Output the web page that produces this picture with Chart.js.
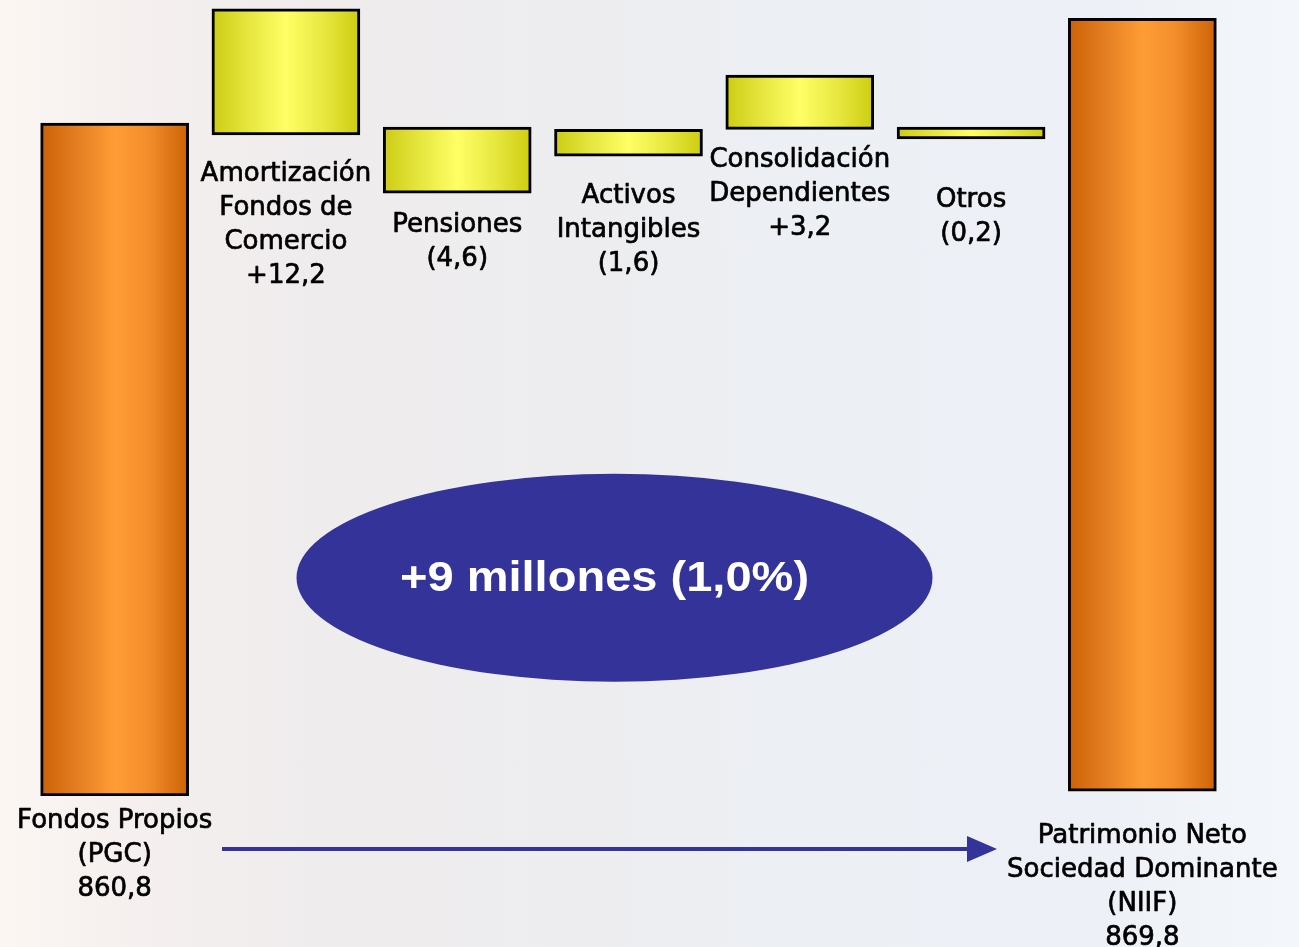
<!DOCTYPE html>
<html>
<head>
<meta charset="utf-8">
<script src="https://cdn.jsdelivr.net/npm/chart.js@4.4.1/dist/chart.umd.min.js"></script>
<style>
    html, body {
        margin: 0;
        padding: 0;
        width: 1299px;
        height: 947px;
        overflow: hidden;
        background: linear-gradient(90deg, #fcf6f3 0%, #f6f0ef 8%, #efeced 25%, #ededef 45%, #eceff4 60%, #edf0f6 85%, #f2f5f9 96%, #f3f6fa 100%);
    }
    #wrap {
        position: absolute;
        left: 0;
        top: 0;
        width: 1299px;
        height: 947px;
    }
</style>
</head>
<body>
<div id="wrap"><canvas id="chart"></canvas></div>
<script>
// Categorías (etiquetas bajo cada barra)
const categories = [
    ['Fondos Propios', '(PGC)', '860,8'],
    ['Amortización', 'Fondos de', 'Comercio', '+12,2'],
    ['Pensiones', '(4,6)'],
    ['Activos', 'Intangibles', '(1,6)'],
    ['Consolidación', 'Dependientes', '+3,2'],
    ['Otros', '(0,2)'],
    ['Patrimonio Neto', 'Sociedad Dominante', '(NIIF)', '869,8']
];

// Valores en millones (tal como figuran en el gráfico)
const amounts = [860.8, 12.2, -4.6, -1.6, 3.2, -0.2, 869.8];

// Niveles dibujados (escala visual del gráfico original, no proporcional)
const barBase = [0, 83.9, 84.9, 84.6, 84.6, 84.9, 0.6];
const barTop  = [85.4, 99.9, 76.5, 81.2, 91.5, 83.4, 98.7];

// Tipo de barra: total (naranja) o variación (amarillo)
const barKind = ['total', 'delta', 'delta', 'delta', 'delta', 'delta', 'total'];

const summaryText = '+9 millones (1,0%)';

const BAR_W = 148;

// Espacio entre la barra y su etiqueta
const labelGap = [25, 39, 32, 40, 31, 61, 45];

function barGradient(context) {
    const chart = context.chart;
    const xScale = chart.scales.x;
    const fallback = barKind[context.dataIndex] === 'total' ? '#f08a2a' : '#eeee50';
    if (!xScale || context.dataIndex === undefined) return fallback;
    const cx = xScale.getPixelForValue(context.dataIndex);
    if (!isFinite(cx)) return fallback;
    const g = chart.ctx.createLinearGradient(cx - BAR_W / 2, 0, cx + BAR_W / 2, 0);
    if (barKind[context.dataIndex] === 'total') {
        g.addColorStop(0, '#cc6205');
        g.addColorStop(0.25, '#e47e22');
        g.addColorStop(0.5, '#ff9d35');
        g.addColorStop(0.72, '#f48e2c');
        g.addColorStop(1, '#cc6205');
    } else {
        g.addColorStop(0, '#cccc14');
        g.addColorStop(0.25, '#e6e640');
        g.addColorStop(0.5, '#ffff66');
        g.addColorStop(0.75, '#e8e842');
        g.addColorStop(1, '#cccc10');
    }
    return g;
}

// Etiquetas, elipse y flecha
const decorPlugin = {
    id: 'decor',
    afterDatasetsDraw(chart) {
        const ctx = chart.ctx;
        const xScale = chart.scales.x;
        const yScale = chart.scales.y;

        ctx.save();
        ctx.fillStyle = '#000000';
        ctx.strokeStyle = '#000000';
        ctx.lineWidth = 0.7;
        ctx.lineJoin = 'round';
        ctx.font = '26px "DejaVu Sans"';
        ctx.textAlign = 'center';
        ctx.textBaseline = 'middle';
        categories.forEach((lines, i) => {
            const cx = xScale.getPixelForValue(i);
            const bottom = yScale.getPixelForValue(Math.min(barBase[i], barTop[i]));
            lines.forEach((line, j) => {
                const y = bottom + labelGap[i] + j * 34;
                ctx.fillText(line, cx, y);
                ctx.strokeText(line, cx, y);
            });
        });

        // Elipse con el resumen
        const ex = (xScale.getPixelForValue(2) + xScale.getPixelForValue(4)) / 2 - 14;
        const ey = yScale.getPixelForValue(27.7);
        ctx.fillStyle = '#333399';
        ctx.beginPath();
        ctx.ellipse(ex, ey, 318, 104, 0, 0, Math.PI * 2);
        ctx.fill();
        ctx.fillStyle = '#ffffff';
        ctx.font = 'bold 42px "Liberation Sans", Arial';
        ctx.save();
        ctx.translate(ex - 10, ey + 2);
        ctx.scale(1.12, 1);
        ctx.fillText(summaryText, 0, 0);
        ctx.restore();

        // Flecha
        const ay = 849;
        const ax0 = 222;
        const ax1 = 997;
        ctx.strokeStyle = '#333399';
        ctx.lineWidth = 4;
        ctx.beginPath();
        ctx.moveTo(ax0, ay);
        ctx.lineTo(ax1 - 26, ay);
        ctx.stroke();
        ctx.fillStyle = '#333399';
        ctx.beginPath();
        ctx.moveTo(ax1, ay);
        ctx.lineTo(ax1 - 30, ay - 13);
        ctx.lineTo(ax1 - 30, ay + 13);
        ctx.closePath();
        ctx.fill();
        ctx.restore();
    }
};

const ctx = document.getElementById('chart').getContext('2d');
new Chart(ctx, {
    type: 'bar',
    data: {
        labels: categories.map(c => c.join(' ')),
        datasets: [{
            data: barBase.map((b, i) => [b, barTop[i]]),
            backgroundColor: barGradient,
            borderColor: '#000000',
            borderWidth: 3,
            borderSkipped: false,
            barThickness: BAR_W
        }]
    },
    options: {
        responsive: true,
        maintainAspectRatio: false,
        animation: false,
        layout: {
            padding: { left: 29, right: 71, top: 8, bottom: 151 }
        },
        plugins: {
            legend: { display: false },
            tooltip: { enabled: false }
        },
        scales: {
            x: { display: false },
            y: { display: false, min: 0, max: 100 }
        }
    },
    plugins: [decorPlugin]
});
</script>
</body>
</html>
